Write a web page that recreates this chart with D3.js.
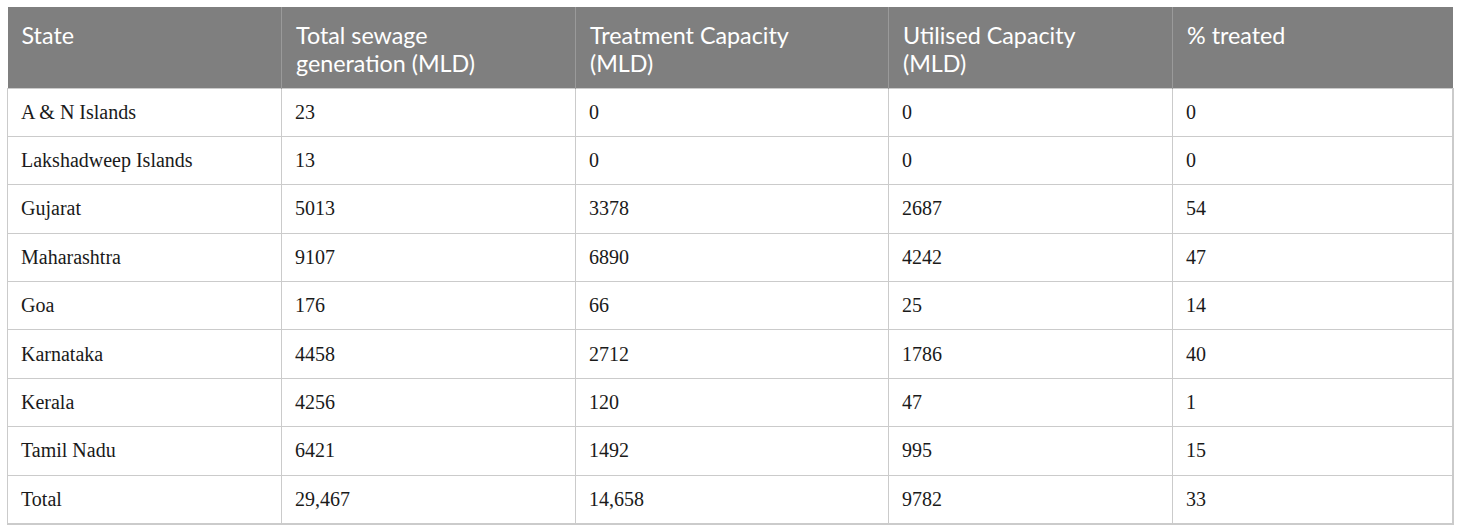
<!DOCTYPE html>
<meta charset="utf-8">
<html>
<head>
    <title>Sewage treatment by state</title>
    <script src="https://cdn.jsdelivr.net/npm/d3@7"></script>
</head>
<style>
    body{
        margin: 0;
        background: white;
    }
    table{
        position: absolute;
        left: 7px;
        top: 7px;
        width: 1445px;
        border-collapse: collapse;
        table-layout: fixed;
    }
    th{
        background: #7f7f7f;
        color: white;
        font-family: Lato, "Open Sans", sans-serif;
        font-size: 23.3px;
        font-weight: normal;
        line-height: 28px;
        text-align: left;
        vertical-align: top;
        height: 81px;
        box-sizing: border-box;
        padding: 14px 10px 0 14px;
        border-left: 1px solid #9a9a9a;
    }
    th:first-child{ border-left: none; }
    td{
        font-family: "Liberation Serif", serif;
        font-size: 20px;
        color: #1a1a1a;
        height: 48.4px;
        box-sizing: border-box;
        padding: 0 10px 0 13px;
        border: 1px solid #cbcbcb;
        vertical-align: middle;
    }
    td:last-child{ border-right: 2px solid #cbcbcb; }
    tr:last-child td{ border-bottom: 2px solid #cbcbcb; }
</style>
<body>
<script>
    // table data
    let headers = [
        ["State"],
        ["Total sewage", "generation (MLD)"],
        ["Treatment Capacity", "(MLD)"],
        ["Utilised Capacity", "(MLD)"],
        ["% treated"]
    ]
    let states = ["A & N Islands", "Lakshadweep Islands", "Gujarat", "Maharashtra", "Goa",
                  "Karnataka", "Kerala", "Tamil Nadu", "Total"]
    let generation = ["23", "13", "5013", "9107", "176", "4458", "4256", "6421", "29,467"]
    let capacity   = ["0", "0", "3378", "6890", "66", "2712", "120", "1492", "14,658"]
    let utilised   = ["0", "0", "2687", "4242", "25", "1786", "47", "995", "9782"]
    let treated    = ["0", "0", "54", "47", "14", "40", "1", "15", "33"]

    let rows = states.map((s, i) => [s, generation[i], capacity[i], utilised[i], treated[i]])

    // column widths
    let colWidths = [274, 294, 313, 284, 280]

    //*****************************
    // table skeleton
    let table = d3.select("body").append("table")
    table.append("colgroup")
        .selectAll("col")
        .data(colWidths)
        .enter().append("col")
        .style("width", d => d + "px")

    //*****************************
    // header, one line per <br>
    let th = table.append("thead").append("tr")
        .selectAll("th")
        .data(headers)
        .enter().append("th")
    th.each(function(lines) {
        let cell = d3.select(this)
        lines.forEach((line, i) => {
            if (i > 0) cell.append("br")
            cell.append("span").text(line)
        })
    })

    //*****************************
    // body rows
    table.append("tbody")
        .selectAll("tr")
        .data(rows)
        .enter().append("tr")
        .selectAll("td")
        .data(d => d)
        .enter().append("td")
        .text(d => d)
</script>
</body>
</html>
